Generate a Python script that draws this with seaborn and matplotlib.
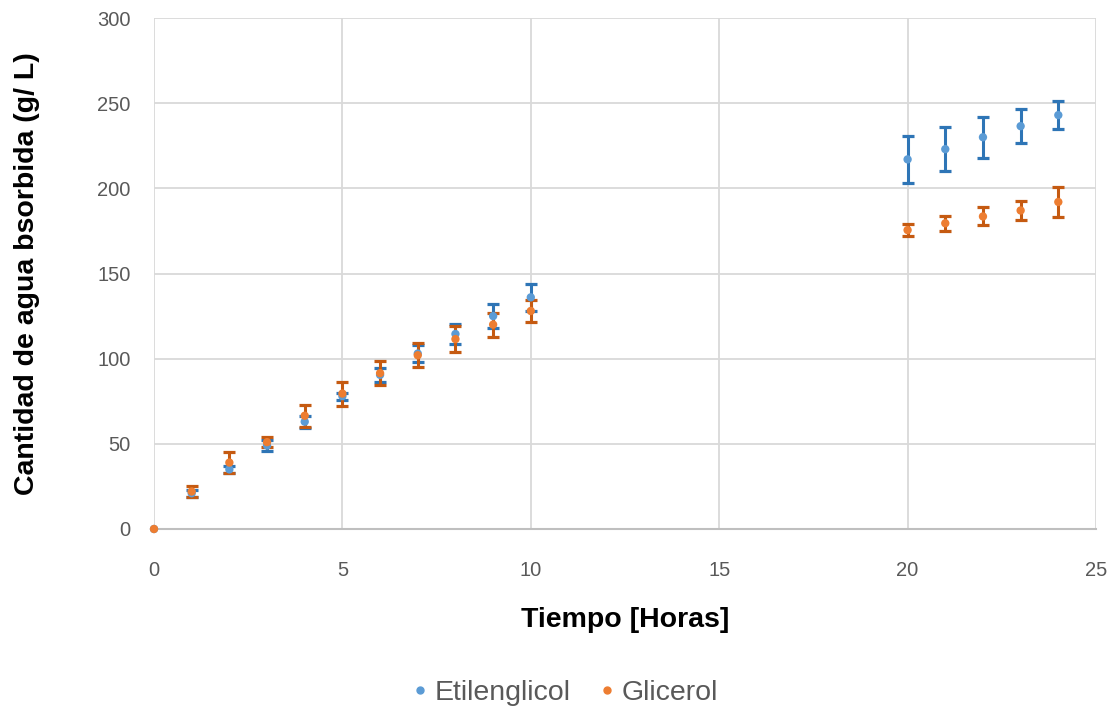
import matplotlib
matplotlib.use("Agg")
import matplotlib.pyplot as plt
import seaborn as sns
import pandas as pd
from matplotlib.lines import Line2D

# Data
tiempo = [0, 1, 2, 3, 4, 5, 6, 7, 8, 9, 10, 20, 21, 22, 23, 24]
etilenglicol = [0, 21, 35, 49, 63, 78, 90.5, 103, 114.5, 125, 136, 217, 223, 230, 236.5, 243]
etilenglicol_err = [0, 2, 2, 3, 3.5, 2, 4, 5, 6, 7, 8, 14, 13, 12, 10, 8]
glicerol = [0, 22, 39, 51, 66.5, 79.5, 91.5, 102, 111.5, 120, 128, 175.5, 179.5, 183.5, 187, 192]
glicerol_err = [0, 3, 6, 3, 6.5, 7, 7, 7, 7.5, 7, 6.5, 3.5, 4.5, 5.3, 5.6, 8.6]

series_names = ["Etilenglicol", "Glicerol"]
marker_colors = ["#5B9BD5", "#ED7D31"]
bar_colors = ["#2E75B6", "#C55A11"]

df = pd.DataFrame({
    "Tiempo": tiempo * 2,
    "Valor": etilenglicol + glicerol,
    "Err": etilenglicol_err + glicerol_err,
    "Serie": [series_names[0]] * len(tiempo) + [series_names[1]] * len(tiempo),
})

sns.set_theme(style="white")
plt.rcParams["font.family"] = ["Liberation Sans", "DejaVu Sans"]

W, H = 1117, 712
fig = plt.figure(figsize=(W / 100, H / 100), dpi=100)
ax = fig.add_axes([154 / W, 1 - 529 / H, (1096 - 154) / W, (529 - 18) / H])

for name, bc in zip(series_names, bar_colors):
    sub = df[df["Serie"] == name]
    mask = sub["Err"] > 0
    ax.errorbar(sub["Tiempo"][mask], sub["Valor"][mask], yerr=sub["Err"][mask],
                fmt="none", ecolor=bc, elinewidth=2.2, capsize=4.5, capthick=2.3, zorder=3)

sns.scatterplot(data=df, x="Tiempo", y="Valor", hue="Serie", palette=marker_colors,
                s=36, edgecolor="none", ax=ax, zorder=4, legend=False, clip_on=False)

ax.set_xlim(0, 25)
ax.set_ylim(0, 300)
ax.set_xticks(range(0, 26, 5))
ax.set_yticks(range(0, 301, 50))
ax.grid(True, color="#d9d9d9", linewidth=1.3)
ax.set_axisbelow(True)
for s in ["top", "right", "left"]:
    ax.spines[s].set_visible(False)
ax.spines["bottom"].set_color("#bfbfbf")
ax.spines["bottom"].set_linewidth(1.5)
ax.tick_params(axis="both", length=0, labelsize=14.5, labelcolor="#595959")
ax.tick_params(axis="x", pad=23)
ax.tick_params(axis="y", pad=17)

ax.set_xlabel("")
ax.set_ylabel("")
fig.text(625 / W, 1 - 620 / H, "Tiempo [Horas]", fontsize=20.5, fontweight="bold",
         color="black", ha="center", va="center")
fig.text(27 / W, 1 - 274 / H, "Cantidad de agua bsorbida (g/ L)", fontsize=20.5,
         fontweight="bold", color="black", ha="center", va="center", rotation=90)

handles = [Line2D([], [], linestyle="none", marker="o", markersize=5, color=c) for c in marker_colors]
fig.legend(handles, series_names, loc="center", bbox_to_anchor=(562 / W, 1 - 693 / H), ncol=2,
           frameon=False, fontsize=20.5, labelcolor="#595959", handletextpad=0.0,
           columnspacing=0.8, handlelength=1.0)

fig.savefig("out.png", dpi=100)
